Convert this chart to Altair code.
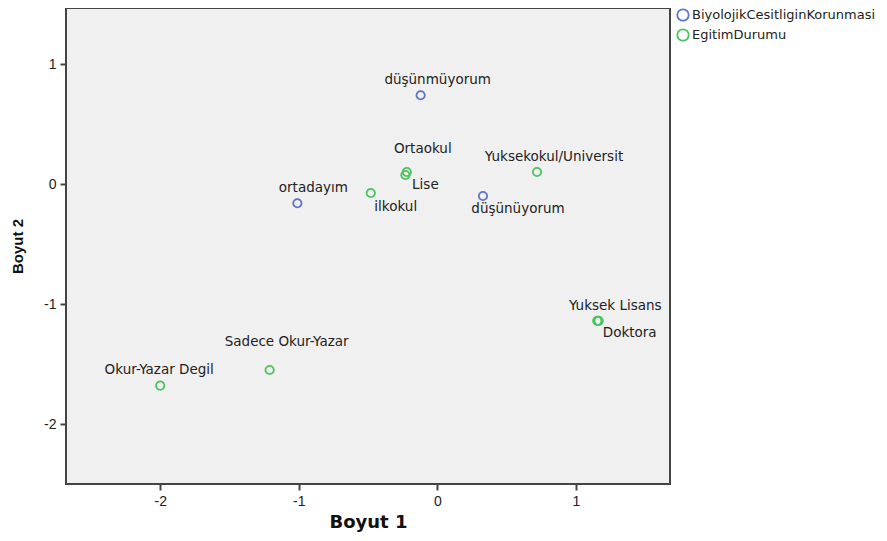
import altair as alt
import pandas as pd

labels = ["düşünmüyorum", "ortadayım", "düşünüyorum",
          "Ortaokul", "Lise", "ilkokul", "Yuksekokul/Universit",
          "Yuksek Lisans", "Doktora", "Sadece Okur-Yazar", "Okur-Yazar Degil"]
dim1 = [-0.12, -1.01, 0.33, -0.22, -0.23, -0.48, 0.72, 1.155, 1.165, -1.21, -2.00]
dim2 = [0.74, -0.16, -0.10, 0.10, 0.075, -0.075, 0.10, -1.14, -1.14, -1.55, -1.68]
groups = ["BiyolojikCesitliginKorunmasi"] * 3 + ["EgitimDurumu"] * 8

# label placement offsets (pixels) relative to each point
label_dx = [17, 16, 35, 16, 20, 25, 17, 18, 31, 17, -1]
label_dy = [-15, -15, 13, -23, 10, 14, -15, -15, 12, -28, -16]

df = pd.DataFrame({"label": labels, "d1": dim1, "d2": dim2, "grp": groups})

FONT = "Liberation Sans"
LFONT = "DejaVu Sans"
xs = alt.Scale(domain=[-2.68, 1.68], nice=False, zero=False)
ys = alt.Scale(domain=[-2.5, 1.467], nice=False, zero=False)

points = alt.Chart(df).mark_point(filled=False, size=70, strokeWidth=1.8, opacity=1).encode(
    x=alt.X("d1:Q", scale=xs, title="Boyut 1",
            axis=alt.Axis(values=[-2, -1, 0, 1], labelExpr="toString(datum.value)", grid=False,
                          tickSize=6, tickColor="#444", tickWidth=2, labelFontSize=14,
                          labelColor="#222", labelPadding=4,
                          titleFontSize=18, titleFontWeight="bold", titlePadding=5,
                          domain=False, labelFont=FONT, titleFont=LFONT, titleColor="#111")),
    y=alt.Y("d2:Q", scale=ys, title="Boyut 2",
            axis=alt.Axis(values=[1, 0, -1, -2], labelExpr="toString(datum.value)", grid=False,
                          tickSize=6, tickColor="#444", tickWidth=2, labelFontSize=14,
                          labelColor="#222", labelPadding=4,
                          titleFontSize=15, titleFontWeight="bold", titlePadding=18,
                          domain=False, labelFont=FONT, titleFont=FONT, titleColor="#111")),
    color=alt.Color("grp:N", title=None,
                    scale=alt.Scale(domain=["BiyolojikCesitliginKorunmasi", "EgitimDurumu"],
                                    range=["#6074c8", "#4cc35e"]),
                    legend=alt.Legend(orient="right", offset=6, symbolType="circle",
                                      symbolSize=130, symbolStrokeWidth=1.8, labelFontSize=13,
                                      labelFont=LFONT, labelColor="#222", padding=0, labelLimit=0,
                                      rowPadding=0, symbolOffset=0, labelOffset=2)),
)

layers = [points]
for i, lab in enumerate(labels):
    t = alt.Chart(df).transform_filter(alt.datum.label == lab).mark_text(
        fontSize=13.5, font=LFONT, color="#222", dx=label_dx[i], dy=label_dy[i], align="center",
        baseline="middle"
    ).encode(x=alt.X("d1:Q", scale=xs), y=alt.Y("d2:Q", scale=ys), text="label:N")
    layers.append(t)

chart = alt.layer(*layers).properties(
    width=604, height=476,
    padding={"left": 58, "top": 0, "right": 209, "bottom": 49},
    autosize=alt.AutoSizeParams(type="none"),
).configure_view(
    fill="#f0f0f0", stroke="#444", strokeWidth=2
)

chart.save("out.html", embed_options={"renderer": "svg", "actions": False})
